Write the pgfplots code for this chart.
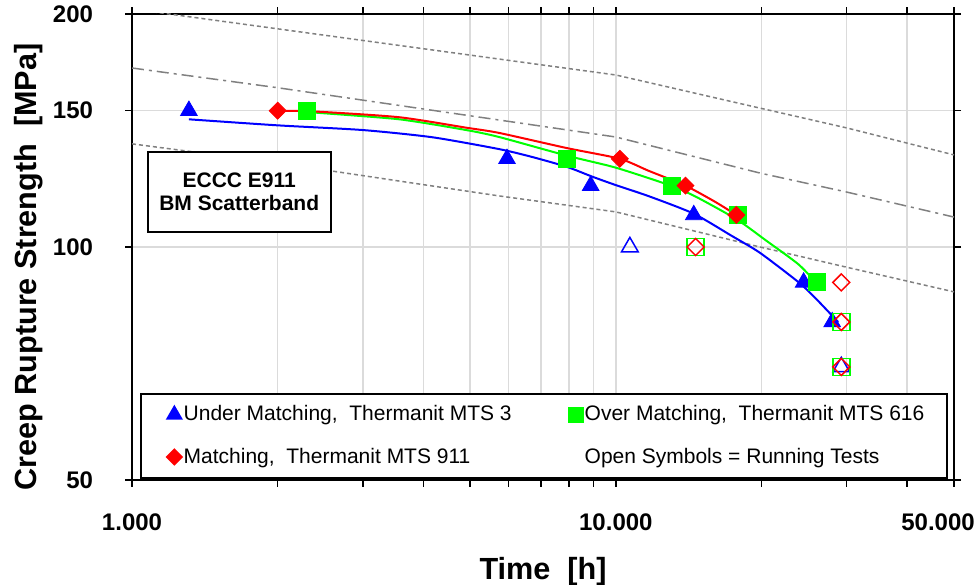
\documentclass[border=0pt]{standalone}
\usepackage{pgfplots}
\pgfplotsset{compat=1.18}
\usepackage{fontspec}
\setmainfont{Liberation Sans}
\definecolor{band}{RGB}{128,128,128}
\definecolor{mblue}{RGB}{0,0,255}
\definecolor{mgreen}{RGB}{0,255,0}
\definecolor{mred}{RGB}{255,0,0}
\pgfplotsset{
  legmark/.style={legend image code/.code={\draw[##1] plot coordinates {(0pt,0pt)};}},
}
\begin{document}
\begin{tikzpicture}
\begin{axis}[
  scale only axis, width=411pt, height=233pt,
  xmode=log, ymode=log,
  xmin=1000, xmax=50000, ymin=50, ymax=200,
  xtick={1000,10000,50000}, xticklabels={1.000,10.000,50.000\rule{16pt}{0pt}},
  minor xtick={2000,3000,4000,5000,6000,7000,8000,9000,20000,30000,40000},
  ytick={50,100,150,200}, yticklabels={50,100,150,200},
  yminorticks=false,
  xmajorgrids, xminorgrids, ymajorgrids,
  grid style={draw=black!14, line width=0.75pt},
  tick align=outside, major tick length=3.5pt, minor tick length=3.5pt,
  every tick/.style={black, line width=0.75pt},
  axis line style={line width=1pt},
  tick label style={font=\bfseries\fontsize{12}{14}\selectfont},
  xticklabel style={yshift=-10pt},
  yticklabel style={xshift=-12.5pt},
  xlabel={Time\ \ [h]},
  ylabel={Creep Rupture Strength\ \ [MPa]},
  every axis x label/.style={at={(rel axis cs:0.5,0)}, anchor=base, yshift=-50pt,
    font=\bfseries\fontsize{15.3}{18}\selectfont},
  every axis y label/.style={at={(rel axis cs:0,0.5)}, rotate=90, anchor=base, yshift=48pt, xshift=-10pt,
    font=\bfseries\fontsize{15.3}{18}\selectfont},
  legend columns=2,
  legend cell align=left,
  legend style={at={(rel axis cs:0.0097,0.002)}, anchor=south west,
    draw=black, line width=1pt, fill=white,
    font=\fontsize{10.5}{12.6}\selectfont,
    inner xsep=13pt, inner ysep=5pt, row sep=10pt, column sep=0pt,
    nodes={inner sep=1pt}},
]
% scatterband
\addplot[forget plot, band, line width=0.75pt, dash pattern=on 2pt off 1.5pt] coordinates {
 (1000,203) (10000,166.8) (20000,151) (30000,142.5) (50000,131.5)};
\addplot[forget plot, band, line width=0.75pt, dash pattern=on 6pt off 2.5pt on 1.5pt off 2.5pt] coordinates {
 (1000,170.3) (2000,160.6) (5737,145.9) (10000,138.7) (19850,124.6) (29900,117.8) (50000,109.3)};
\addplot[forget plot, band, line width=0.75pt, dash pattern=on 2pt off 1.5pt] coordinates {
 (1000,135.9) (2000,128.4) (5737,116.4) (10000,111) (19850,100) (29900,94.2) (50000,87.5)};
% fitted curves
\addplot[forget plot, mblue, line width=1pt, smooth, tension=0.4] coordinates {
 (1311,146.2) (2000,143.6) (3000,141.6) (4175,138.6) (5737,133.8) (6714,130.7) (7925,126.9)
 (8960,123.2) (10000,120.2) (11700,116.3) (14490,110.4) (17340,103.4) (19850,98.3)
 (23830,90.1) (25800,86.0) (28800,80)};
\addplot[forget plot, mgreen, line width=1pt, smooth, tension=0.4] coordinates {
 (2296,149.5) (2406,149.1) (3569,146.2) (4906,141.6) (5737,138.7) (7925,131.2) (10000,126.6)
 (13050,119.9) (14800,115.7) (17840,108.4) (20370,102.1) (23830,95.0) (26090,89.6)};
\addplot[forget plot, mred, line width=1pt, smooth, tension=0.4] coordinates {
 (1991,150) (2406,149.6) (3569,147.1) (4906,142.6) (5737,140.4) (7925,134.2) (10190,130)
 (11700,125.4) (13930,120) (16070,114.3) (17740,110)};
% data
\addplot[mblue, only marks, mark=triangle*, mark size=4.8pt, legmark, legend image post style={mark size=4pt}] coordinates {
 (1311,150) (5957,130) (8872,120) (14490,110) (24440,90) (28000,80)};
\addlegendentry{\makebox[191.5pt][l]{Under Matching,\ \ Thermanit MTS 3}}
\addplot[forget plot, mblue, only marks, mark=triangle, mark size=4.8pt, mark options={line width=0.75pt}] coordinates {
 (10690,100) (29240,70)};
\addplot[mgreen, only marks, mark=square*, mark size=4.25pt, legmark, legend image post style={mark size=3.5pt}] coordinates {
 (2296,150) (7925,130) (13050,120) (17840,110) (26090,90)};
\addlegendentry{\makebox[167pt][l]{Over Matching,\ \ Thermanit MTS 616}}
\addplot[forget plot, mgreen, only marks, mark=square, mark size=4.25pt, mark options={line width=0.75pt}] coordinates {
 (14620,100) (29240,80) (29240,70)};
\addplot[mred, only marks, mark=square*, mark size=3pt, mark options={rotate=45}, legmark, legend image post style={mark size=2.6pt}] coordinates {
 (2000,150) (10190,130) (13930,120) (17740,110)};
\addlegendentry{Matching,\ \ Thermanit MTS 911}
\addplot[forget plot, mred, only marks, mark=square, mark size=3pt, mark options={rotate=45, line width=0.75pt}] coordinates {
 (14620,100) (29240,90) (29240,80) (29240,70)};
\addlegendimage{empty legend}
\addlegendentry{Open Symbols = Running Tests}
\node[draw=black, line width=1pt, fill=white, minimum width=91.5pt, minimum height=40pt,
  align=center, inner sep=0pt, font=\bfseries\fontsize{10.5}{11.5}\selectfont]
  at (axis cs:1666,117.8) {ECCC E911\\BM Scatterband};
\end{axis}
\pgfresetboundingbox
\path[use as bounding box] ([xshift=-66pt,yshift=-52pt]current axis.south west) rectangle ([xshift=12pt,yshift=7pt]current axis.north east);
\end{tikzpicture}
\end{document}
